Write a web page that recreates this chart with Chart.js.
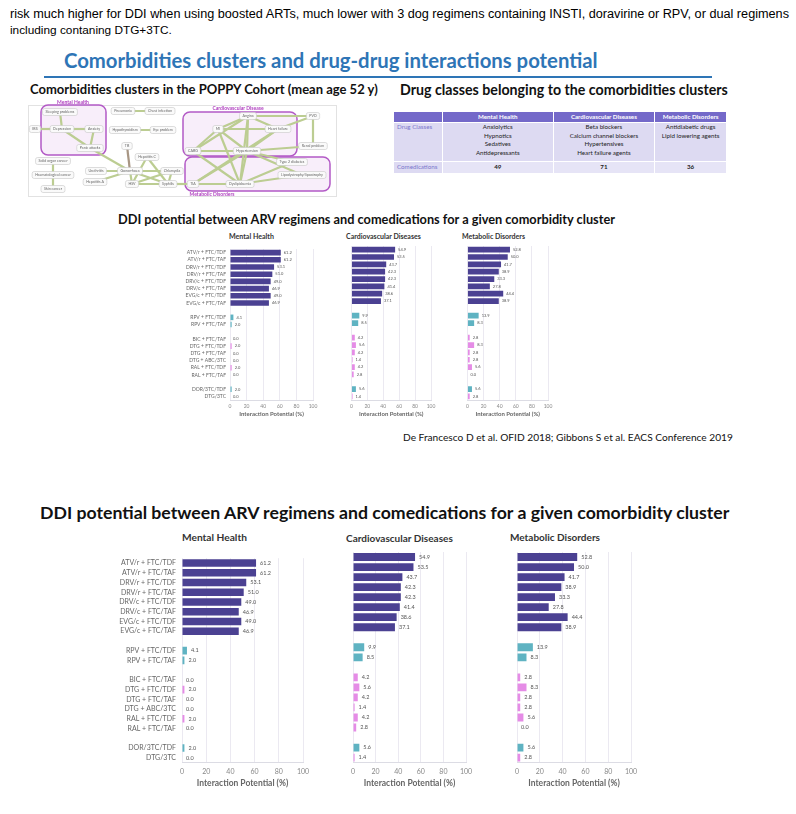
<!DOCTYPE html>
<html>
<head>
<meta charset="utf-8">
<script src="https://cdn.jsdelivr.net/npm/chart.js@4.4.1/dist/chart.umd.min.js"></script>
<style>
  body { margin:0; background:#fff; width:796px; height:814px; position:relative; overflow:hidden; font-family:Lato, sans-serif; }
  .t { position:absolute; white-space:nowrap; line-height:1; }
  canvas { position:absolute; }
  #tbl { position:absolute; left:393px; top:111px; width:334px; border-collapse:collapse; font-family:Lato, sans-serif; font-size:6.2px; color:#222; }
  #tbl td, #tbl th { border:1px solid #fff; padding:0; text-align:center; line-height:8.6px; }
  #tbl th { background:#7469c9; color:#fff; font-weight:700; height:10px; }
  #tbl td { background:#dddaf2; }
  #tbl td.rowhead { text-align:left; color:#7a76cc; padding-left:3px; vertical-align:top; }
  #rule { position:absolute; left:44px; top:76px; width:668px; height:2px; background:#2e75b6; }
  #frame { position:absolute; left:28px; top:105px; width:307px; height:90px; border:1px solid #e2e2e2; }
</style>
</head>
<body>
<div id="rule"></div>
<div id="frame"></div>
<canvas id="diagram" width="312" height="103" style="left:26px;top:97px"></canvas>
<table id="tbl"></table>

<canvas id="smallMH"></canvas>
<canvas id="smallCV"></canvas>
<canvas id="smallMD"></canvas>
<canvas id="bigMH"></canvas>
<canvas id="bigCV"></canvas>
<canvas id="bigMD"></canvas>

<script>
// ---- chart data ----
const regimens = ['ATV/r + FTC/TDF','ATV/r + FTC/TAF','DRV/r + FTC/TDF','DRV/r + FTC/TAF','DRV/c + FTC/TDF','DRV/c + FTC/TAF','EVG/c + FTC/TDF','EVG/c + FTC/TAF','',
  'RPV + FTC/TDF','RPV + FTC/TAF','',
  'BIC + FTC/TAF','DTG + FTC/TDF','DTG + FTC/TAF','DTG + ABC/3TC','RAL + FTC/TDF','RAL + FTC/TAF','',
  'DOR/3TC/TDF','DTG/3TC'];
const regimenClass = ['boosted','boosted','boosted','boosted','boosted','boosted','boosted','boosted','',
  'nnrti','nnrti','',
  'insti','insti','insti','insti','insti','insti','',
  'nnrti','insti'];
const mentalHealth   = [61.2,61.2,53.1,51.0,49.0,46.9,49.0,46.9,null, 4.1,2.0,null, 0.0,2.0,0.0,0.0,2.0,0.0,null, 2.0,0.0];
const cardiovascular = [54.9,53.5,43.7,42.3,42.3,41.4,38.6,37.1,null, 9.9,8.5,null, 4.2,5.6,4.2,1.4,4.2,2.8,null, 5.6,1.4];
const metabolic      = [52.8,50.0,41.7,38.9,33.3,27.8,44.4,38.9,null, 13.9,8.3,null, 2.8,8.3,2.8,2.8,5.6,0.0,null, 5.6,2.8];
const xTicks = [0,20,40,60,80,100];

const clusters = ['Mental Health','Cardiovascular Diseases','Metabolic Disorders'];
const drugClasses = [
  ['Anxiolytics','Hypnotics','Sedatives','Antidepressants'],
  ['Beta blockers','Calcium channel blockers','Hypertensives','Heart failure agents'],
  ['Antidiabetic drugs','Lipid lowering agents']
];
const comedications = [49, 71, 36];

// comorbidity network (POPPY)
const diagramNodes = ['Sleeping problems','IBS','Depression','Anxiety','Panic attacks','Pneumonia','Chest infection','Hypothyroidism','Eye problem','TB',
  'Hepatitis C','Gonorrhoea','Urethritis','Hepatitis A','HSV','Chlamydia','Syphilis','TIA','Solid organ cancer','Haematological cancer','Skin cancer',
  'Angina','PVD','MI','Heart failure','Renal problem','CABG','Hypertension','Type 2 diabetes','Lipodystrophy/lipoatrophy','Dyslipidaemia'];
const diagramX = [60,35,62,94,90,123,160,125,163,127, 147,130,96,95,132,172,168,193,53,53,53, 248,313,218,278,313,193,247,292,302,240];
const diagramY = [112,129,129,129,148,111,111,130,130,146, 157,171,171,182,184,171,184,184,161,175,189, 116,116,129,129,146,151,151,162,175,184];
const diagramEdges = [
  ['Sleeping problems','Depression'],['IBS','Depression'],['Depression','Anxiety'],['Depression','Panic attacks'],['Anxiety','Panic attacks'],
  ['Pneumonia','Chest infection'],['Hypothyroidism','Eye problem'],['Panic attacks','Gonorrhoea'],['TB','Gonorrhoea'],
  ['Urethritis','Gonorrhoea'],['Hepatitis A','Gonorrhoea'],['Gonorrhoea','Chlamydia'],['Gonorrhoea','Syphilis'],['Gonorrhoea','HSV'],
  ['Hepatitis C','Syphilis'],['Hepatitis C','HSV'],['HSV','Chlamydia'],['HSV','Syphilis'],['Chlamydia','Syphilis'],['Syphilis','TIA'],['TIA','Dyslipidaemia'],
  ['Solid organ cancer','Haematological cancer'],['Haematological cancer','Skin cancer'],
  ['Angina','PVD'],['Angina','MI'],['Angina','Heart failure'],['Angina','Hypertension'],['Angina','CABG'],['MI','Heart failure'],['MI','Hypertension'],
  ['MI','CABG'],['Heart failure','Hypertension'],['PVD','Heart failure'],['PVD','Renal problem'],['Hypertension','Renal problem'],['CABG','Hypertension'],
  ['Hypertension','Type 2 diabetes'],['Hypertension','Lipodystrophy/lipoatrophy'],['Hypertension','Dyslipidaemia'],['MI','Dyslipidaemia'],
  ['CABG','Dyslipidaemia'],['Angina','Dyslipidaemia'],['Heart failure','TIA'],['Dyslipidaemia','Type 2 diabetes'],['Dyslipidaemia','Lipodystrophy/lipoatrophy'],
  ['TIA','Hypertension']
];
const clusterLabels = ['Mental Health','Cardiovascular Disease','Metabolic Disorders'];
const clusterBoxes = [[41,105,106,155],[183,112,297,156],[185,157,330,191]];
const clusterLabelPos = [[73,102],[238,108],[212,194]];

const classColors = { boosted:'#4b4192', nnrti:'#5fb3c2', insti:'#e58ce6', '':'#fff' };

Chart.defaults.font.family = 'Lato, sans-serif';
Chart.defaults.animation = false;

// ---- texts ----
const texts = [
  { s:'risk much higher for DDI when using boosted ARTs, much lower with 3 dog regimens containing INSTI, doravirine or RPV, or dual regimens', x:10, y:14, w:780, size:13, fam:'"Liberation Sans", Arial, sans-serif', color:'#000' },
  { s:'including contaning DTG+3TC.', x:10, y:31, w:162, size:13, fam:'"Liberation Sans", Arial, sans-serif', color:'#000' },
  { s:'Comorbidities clusters and drug-drug interactions potential', x:64, y:60, w:534, size:24, bold:true, color:'#2e75b6' },
  { s:'Comorbidities clusters in the POPPY Cohort (mean age 52 y)', x:30, y:90, w:348, size:13, bold:true, color:'#111' },
  { s:'Drug classes belonging to the comorbidities clusters', x:400, y:90, w:328, size:13, bold:true, color:'#111' },
  { s:'DDI potential between ARV regimens and comedications for a given comorbidity cluster', x:118, y:219, w:497, size:13, bold:true, color:'#111' },
  { s:'Mental Health', x:229, y:237, w:45, size:7, bold:true, color:'#333' },
  { s:'Cardiovascular Diseases', x:346, y:237, w:75, size:7, bold:true, color:'#333' },
  { s:'Metabolic Disorders', x:462, y:236, w:63, size:7, bold:true, color:'#333' },
  { s:'De Francesco D et al. OFID 2018; Gibbons S et al. EACS Conference 2019', x:403, y:437, w:330, size:11, color:'#111' },
  { s:'DDI potential between ARV regimens and comedications for a given comorbidity cluster', x:40, y:513, w:690, size:18, bold:true, color:'#111' },
  { s:'Mental Health', x:182, y:537, w:65, size:10, bold:true, color:'#333' },
  { s:'Cardiovascular Diseases', x:346, y:538, w:107, size:10, bold:true, color:'#333' },
  { s:'Metabolic Disorders', x:510, y:537, w:90, size:10, bold:true, color:'#333' }
];
texts.forEach(t => {
  const el = document.createElement('div');
  el.className = 't';
  el.textContent = t.s;
  el.style.fontFamily = t.fam || 'Lato, sans-serif';
  el.style.fontWeight = t.bold ? '700' : '400';
  el.style.fontSize = t.size + 'px';
  el.style.color = t.color;
  document.body.appendChild(el);
  const w = el.getBoundingClientRect().width;
  el.style.fontSize = (t.size * t.w / w) + 'px';
  const h = el.getBoundingClientRect().height;
  el.style.left = t.x + 'px';
  el.style.top = (t.y - h / 2) + 'px';
});

// ---- table ----
const tbl = document.getElementById('tbl');
let html = '<colgroup><col style="width:49px"><col style="width:111px"><col style="width:102px"><col style="width:72px"></colgroup>';
html += '<tr><th></th>' + clusters.map(c => '<th>' + c + '</th>').join('') + '</tr>';
html += '<tr style="height:39px"><td class="rowhead">Drug Classes</td>' + drugClasses.map(d => '<td style="vertical-align:top">' + d.join('<br>') + '</td>').join('') + '</tr>';
html += '<tr style="height:12px"><td class="rowhead" style="vertical-align:middle">Comedications</td>' + comedications.map(n => '<td style="font-weight:700;background:#e6e4f6">' + n + '</td>').join('') + '</tr>';
tbl.innerHTML = html;

// ---- network diagram ----
const idx = name => diagramNodes.indexOf(name);
const networkPlugin = {
  id: 'network',
  beforeDatasetsDraw(chart) {
    const ctx = chart.ctx, xs = chart.scales.x, ys = chart.scales.y;
    ctx.save();
    clusterBoxes.forEach((b, i) => {
      const x1 = xs.getPixelForValue(b[0]), y1 = ys.getPixelForValue(b[1]);
      const x2 = xs.getPixelForValue(b[2]), y2 = ys.getPixelForValue(b[3]);
      ctx.beginPath();
      ctx.roundRect(x1, y1, x2 - x1, y2 - y1, 7);
      ctx.fillStyle = 'rgba(236,205,240,0.35)';
      ctx.fill();
      ctx.lineWidth = 1.5;
      ctx.strokeStyle = '#b35ac6';
      ctx.stroke();
    });
    ctx.restore();
  },
  afterDatasetsDraw(chart) {
    const ctx = chart.ctx, xs = chart.scales.x, ys = chart.scales.y;
    ctx.save();
    ctx.font = '3.6px Lato';
    ctx.textAlign = 'center';
    ctx.textBaseline = 'middle';
    diagramNodes.forEach((n, i) => {
      const px = xs.getPixelForValue(diagramX[i]), py = ys.getPixelForValue(diagramY[i]);
      const w = ctx.measureText(n).width + 6;
      ctx.beginPath();
      ctx.roundRect(px - w / 2, py - 3.5, w, 7, 2);
      ctx.fillStyle = '#fafafa';
      ctx.fill();
      ctx.lineWidth = 0.6;
      ctx.strokeStyle = '#c8c8c8';
      ctx.stroke();
      ctx.fillStyle = '#666';
      ctx.fillText(n, px, py);
    });
    ctx.font = 'bold 5px Lato';
    ctx.fillStyle = '#b040c0';
    clusterLabels.forEach((l, i) => {
      ctx.fillText(l, xs.getPixelForValue(clusterLabelPos[i][0]), ys.getPixelForValue(clusterLabelPos[i][1]));
    });
    ctx.restore();
  }
};
new Chart(document.getElementById('diagram'), {
  type: 'scatter',
  data: {
    datasets: diagramEdges.map(e => ({
      data: [{ x: diagramX[idx(e[0])], y: diagramY[idx(e[0])] }, { x: diagramX[idx(e[1])], y: diagramY[idx(e[1])] }],
      showLine: true,
      borderColor: e[0] === 'TB' ? '#a89684' : '#bccd92',
      borderWidth: 2.2,
      pointRadius: 0
    }))
  },
  options: {
    responsive: false,
    layout: { padding: 0 },
    plugins: { legend: { display: false }, tooltip: { enabled: false } },
    scales: {
      x: { type: 'linear', min: 26, max: 338, display: false },
      y: { type: 'linear', min: 97, max: 200, reverse: true, display: false }
    }
  },
  plugins: [networkPlugin]
});

// ---- bar panels ----
const valueLabels = {
  id: 'valueLabels',
  afterDatasetsDraw(chart, args, opts) {
    const ctx = chart.ctx;
    const meta = chart.getDatasetMeta(0);
    const vals = chart.data.datasets[0].data;
    ctx.save();
    ctx.font = opts.size + 'px Lato';
    ctx.fillStyle = '#555';
    ctx.textBaseline = 'middle';
    meta.data.forEach((bar, i) => {
      if (vals[i] == null) return;
      ctx.fillText(vals[i].toFixed(1), bar.x + opts.gap, bar.y);
    });
    ctx.restore();
  }
};

function panel(id, values, g) {
  const cv = document.getElementById(id);
  const left = g.plotLeft - g.yw;
  const top = g.plotTop - 4;
  const width = g.plotRight - left + g.padRight;
  const height = Math.round(g.axisBottom - top);
  cv.width = width; cv.height = height;
  cv.style.left = left + 'px';
  cv.style.top = top + 'px';
  new Chart(cv, {
    type: 'bar',
    data: {
      labels: regimens,
      datasets: [{
        data: values,
        backgroundColor: regimenClass.map(c => classColors[c]),
        barPercentage: 0.78,
        categoryPercentage: 1
      }]
    },
    options: {
      indexAxis: 'y',
      responsive: false,
      layout: { padding: { top: 4, right: g.padRight, left: 0, bottom: 0 } },
      plugins: {
        legend: { display: false },
        tooltip: { enabled: false },
        valueLabels: { size: g.valueSize, gap: g.valueGap }
      },
      scales: {
        x: {
          min: 0, max: 100,
          afterBuildTicks: s => { s.ticks = xTicks.map(v => ({ value: v })); },
          ticks: { font: { size: g.tickSize }, color: '#888', padding: g.tickPad, maxRotation: 0 },
          grid: { color: '#ebe9f1', drawTicks: false },
          border: { display: true, color: '#dcdce4' },
          title: { display: true, text: 'Interaction Potential (%)', font: { size: g.titleSize, weight: 'bold' }, color: '#666', padding: 0 },
          afterFit: s => { s.height = g.axisBottom - g.plotBottom; }
        },
        y: {
          ticks: { display: g.yw > 0, font: { size: g.labelSize }, color: '#666', padding: g.labelPad, autoSkip: false },
          grid: { display: false, drawTicks: false },
          border: { display: false },
          afterFit: s => { s.width = g.yw; }
        }
      }
    },
    plugins: [valueLabels]
  });
}

const small = { plotTop: 246.3, plotBottom: 400.7, axisBottom: 418.6, padRight: 14, tickSize: 5, tickPad: 3, titleSize: 6, labelSize: 5, labelPad: 4, valueSize: 4, valueGap: 3 };
panel('smallMH', mentalHealth,   Object.assign({}, small, { plotLeft: 230, plotRight: 313, yw: 62 }));
panel('smallCV', cardiovascular, Object.assign({}, small, { plotLeft: 347, plotRight: 431, yw: 0 }));
panel('smallMD', metabolic,      Object.assign({}, small, { plotLeft: 463, plotRight: 548, yw: 0 }));

const big = { plotTop: 552.3, plotBottom: 763, axisBottom: 788.4, padRight: 20, tickSize: 7, tickPad: 5, titleSize: 8.5, labelSize: 7, labelPad: 6, valueSize: 5.5, valueGap: 4 };
panel('bigMH', mentalHealth,   Object.assign({}, big, { plotLeft: 182, plotRight: 303, yw: 87 }));
panel('bigCV', cardiovascular, Object.assign({}, big, { plotLeft: 346, plotRight: 466.7, yw: 0 }));
panel('bigMD', metabolic,      Object.assign({}, big, { plotLeft: 510, plotRight: 631.7, yw: 0 }));
</script>
</body>
</html>
